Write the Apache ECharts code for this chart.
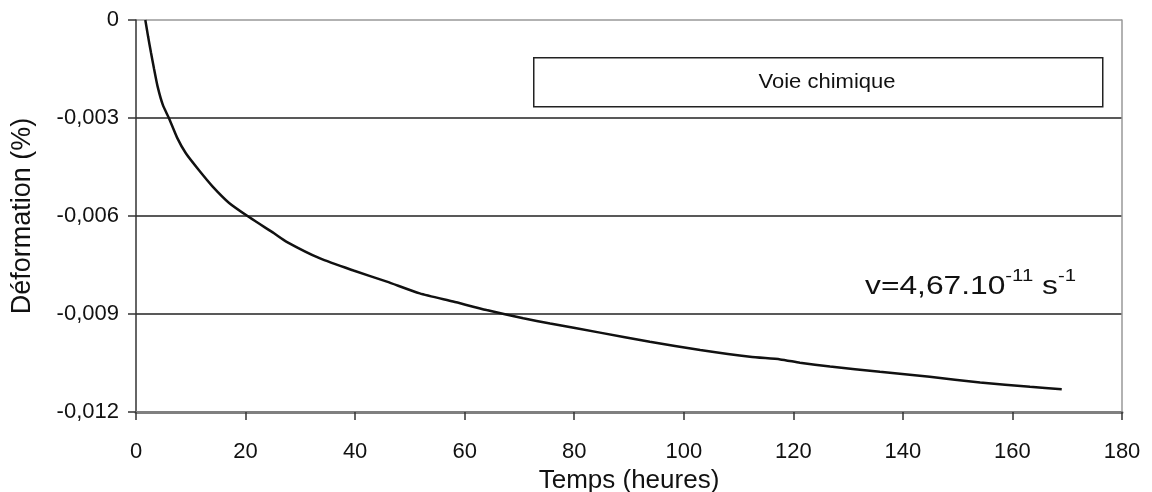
<!DOCTYPE html>
<html>
<head>
<meta charset="utf-8">
<script src="https://cdn.jsdelivr.net/npm/echarts@6/dist/echarts.min.js"></script>
<style>
  html, body { margin: 0; padding: 0; background: #fff; }
  #chart { width: 1152px; height: 492px; }
</style>
</head>
<body>
<div id="chart"></div>
<script>
var chart = echarts.init(document.getElementById("chart"));

// temps (heures) et déformation (%)
var temps = [1.7, 2.2, 2.75, 3.3, 3.95, 4.9, 6.0, 7.5, 9.1, 11.5, 14.0, 17.0, 20.7, 25.2, 27.5, 33.6, 39.7, 45.8,
  51.8, 57.9, 64.0, 70.7, 75.6, 84.7, 93.8, 103.0, 112.1, 117.6, 121.2, 126.7, 135.8, 144.9, 154.1, 163.2, 169.0];
var deformation = [0, -0.0005, -0.00101, -0.0015, -0.00204, -0.0026, -0.003, -0.0036, -0.00408, -0.0046,
  -0.0051, -0.0056, -0.00604, -0.00653, -0.00679, -0.0073, -0.00767, -0.00801, -0.00837, -0.00862,
  -0.00888, -0.00913, -0.00929, -0.00957, -0.00985, -0.0101, -0.01031, -0.01039, -0.01049, -0.01061,
  -0.01077, -0.01092, -0.0111, -0.01123, -0.0113];
var xTicks = [0, 20, 40, 60, 80, 100, 120, 140, 160, 180];
var yTicks = [0, -0.003, -0.006, -0.009, -0.012];

var points = temps.map(function (t, i) { return [t, deformation[i]]; });

var police = "Liberation Sans, Arial, sans-serif";

var option = {
  animation: false,
  backgroundColor: "#fff",
  grid: { left: 136, right: 30, top: 20, bottom: 80, containLabel: false, outerBoundsMode: "none" },
  xAxis: {
    type: "value",
    min: xTicks[0],
    max: xTicks[xTicks.length - 1],
    interval: 20,
    name: "Temps (heures)",
    nameLocation: "middle",
    nameGap: 51,
    nameTextStyle: { color: "#111", fontSize: 26, fontFamily: police },
    axisLine: { onZero: false, lineStyle: { color: "#808080", width: 3 } },
    axisTick: { show: true, length: 8, lineStyle: { color: "#333", width: 1.5 } },
    axisLabel: { color: "#111", fontSize: 22, fontFamily: police, margin: 29 },
    splitLine: { show: false }
  },
  yAxis: [{
    type: "value",
    min: yTicks[yTicks.length - 1],
    max: yTicks[0],
    interval: 0.003,
    name: "Déformation (%)",
    nameLocation: "middle",
    nameGap: 100,
    nameTextStyle: { color: "#111", fontSize: 27, fontFamily: police },
    axisLine: { show: true, onZero: false, lineStyle: { color: "#333", width: 1.5 } },
    axisTick: { show: true, length: 8, lineStyle: { color: "#333", width: 1.5 } },
    axisLabel: {
      color: "#111", fontSize: 22, fontFamily: police, margin: 17,
      formatter: function (v) { return v === 0 ? "0" : v.toFixed(3).replace(".", ","); }
    },
    splitLine: {
      show: true,
      lineStyle: { color: ["#999", "#222", "#222", "#222", "#999"], width: 1.5 }
    }
  }, {
    type: "value",
    position: "right",
    min: yTicks[yTicks.length - 1],
    max: yTicks[0],
    axisLine: { show: true, onZero: false, lineStyle: { color: "#999", width: 1.5 } },
    axisTick: { show: false },
    axisLabel: { show: false },
    splitLine: { show: false }
  }],
  series: [{
    name: "Voie chimique",
    type: "line",
    data: points,
    smooth: 0.2,
    symbol: "none",
    lineStyle: { color: "#111", width: 2.5 }
  }],
  graphic: [{
    type: "rect",
    left: 533,
    top: 57,
    shape: { width: 569, height: 49 },
    style: { fill: "#fff", stroke: "#222", lineWidth: 1.5 }
  }, {
    type: "text",
    x: 827,
    y: 82,
    scaleX: 1.1,
    style: {
      text: "Voie chimique",
      fill: "#111",
      font: "20px " + police,
      align: "center",
      verticalAlign: "middle"
    }
  }, {
    type: "text",
    x: 865,
    y: 282,
    scaleX: 1.27,
    style: {
      text: "{n|v=4,67.10}{s|-11}{n| s}{s|-1}",
      fill: "#111",
      verticalAlign: "middle",
      rich: {
        n: { fontSize: 25, fontFamily: police, color: "#111", padding: [10, 0, 0, 0] },
        s: { fontSize: 16, fontFamily: police, color: "#111", padding: [0, 0, 10, 0] }
      }
    }
  }]
};

chart.setOption(option);
</script>
</body>
</html>
